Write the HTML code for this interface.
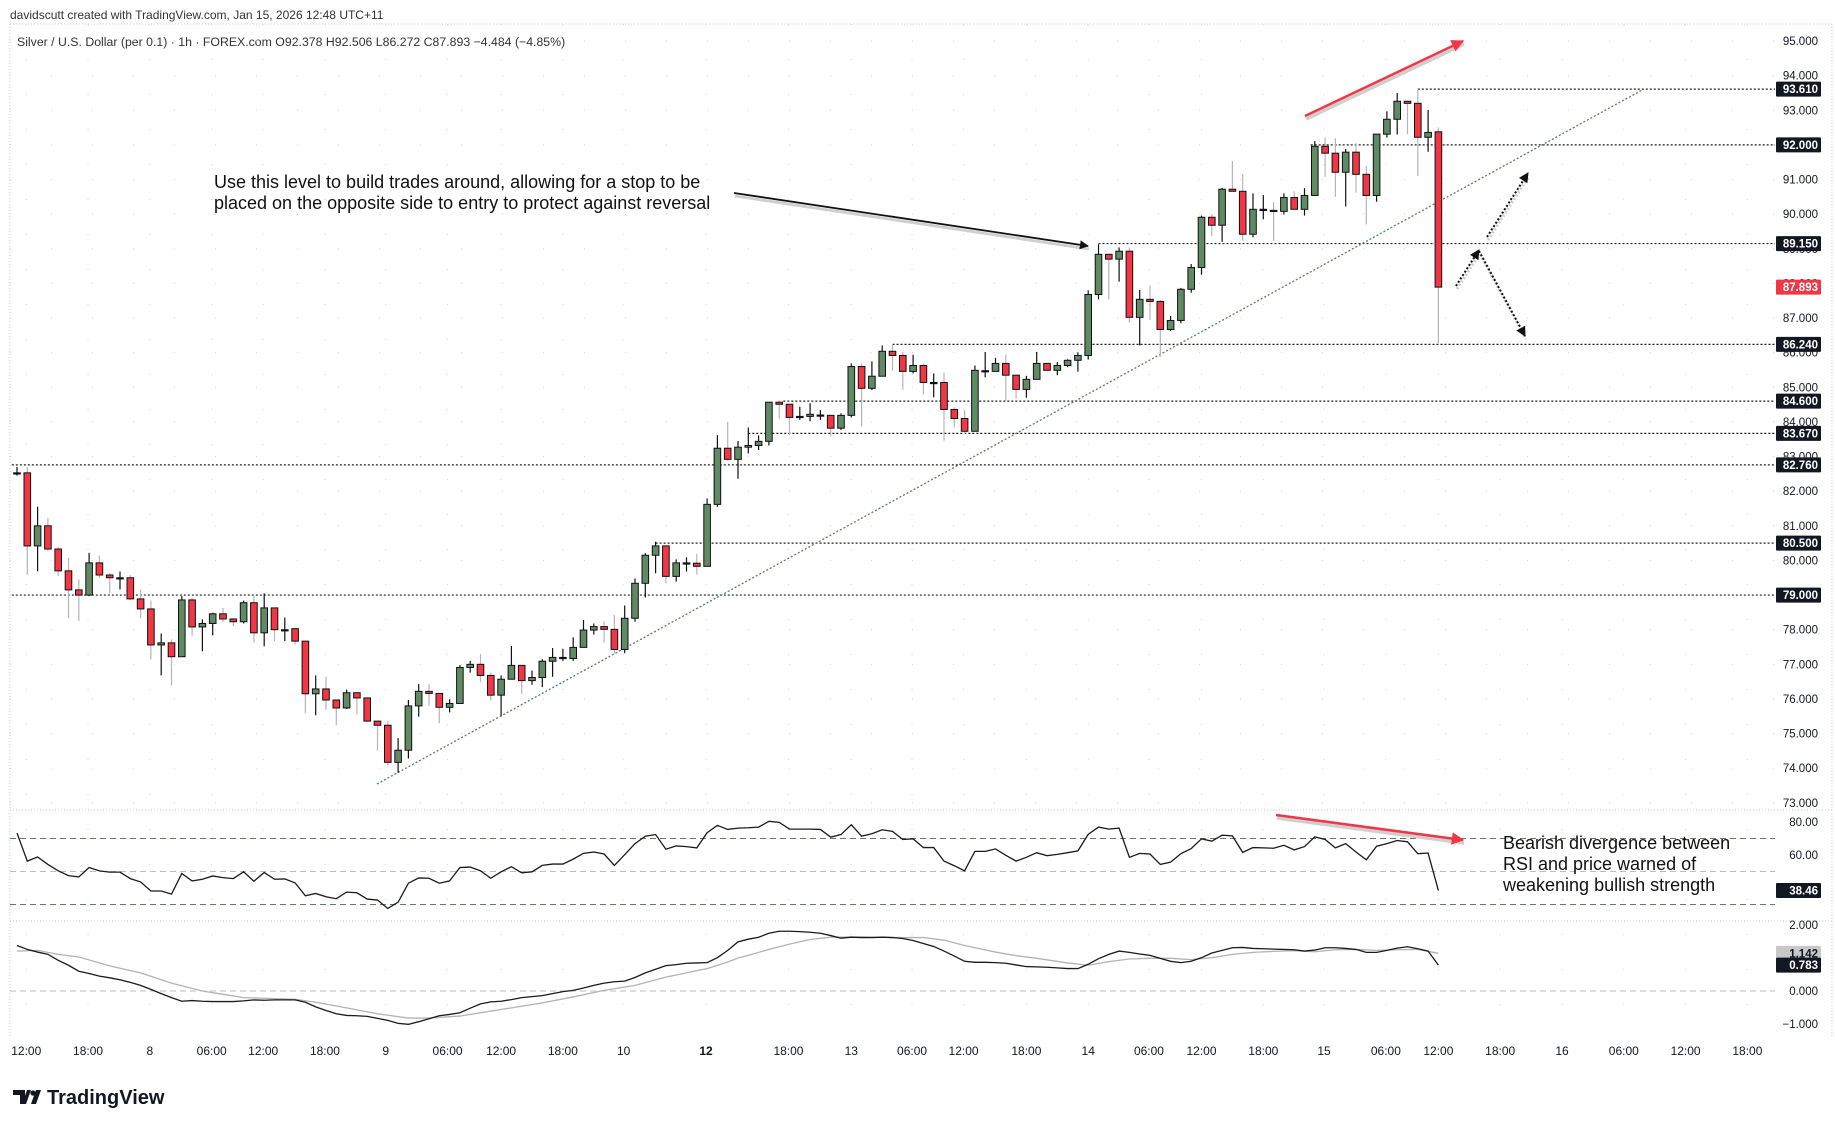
<!DOCTYPE html>
<html><head><meta charset="utf-8"><style>
html,body{margin:0;padding:0;background:#fff;}
body{width:1835px;height:1126px;overflow:hidden;position:relative;font-family:"Liberation Sans",Arial,sans-serif;}
svg{position:absolute;left:0;top:0;}
</style></head><body>
<svg id="chart" width="1835" height="1126" viewBox="0 0 1835 1126" xmlns="http://www.w3.org/2000/svg">
<text x="10" y="19" font-size="12" fill="#333" font-family="Liberation Sans, sans-serif">davidscutt created with TradingView.com, Jan 15, 2026 12:48 UTC+11</text>
<text x="17" y="46" font-size="12.3" fill="#333" font-family="Liberation Sans, sans-serif">Silver / U.S. Dollar (per 0.1) · 1h · FOREX.com  O92.378  H92.506  L86.272  C87.893  −4.484 (−4.85%)</text>
<g id="grid"></g>
<g id="frame"></g>
<g id="levels"></g>
<g id="trend"></g>
<g id="candles"></g>
<g id="rsi"></g>
<g id="macd"></g>
<g id="yaxis"></g>
<g id="xaxis"></g>
<g id="annot">
<text font-size="18" fill="#111" font-family="Liberation Sans, sans-serif"><tspan x="214" y="188">Use this level to build trades around, allowing for a stop to be</tspan><tspan x="214" y="209">placed on the opposite side to entry to protect against reversal</tspan></text>
<text font-size="18" fill="#111" font-family="Liberation Sans, sans-serif"><tspan x="1503" y="849">Bearish divergence between</tspan><tspan x="1503" y="870">RSI and price warned of</tspan><tspan x="1503" y="891">weakening bullish strength</tspan></text>
</g>
<g>
<path d="M13 1090 h12 v14 h-5 v-9 h-7z M27 1090 l4 0 l-5 14 h-4z" fill="#131722"/>
<circle cx="33" cy="1093" r="2.6" fill="#131722"/>
<path d="M36 1090 h5 l-5 14 h-5z" fill="#131722"/>
<text x="47" y="1104" font-size="20" font-weight="bold" fill="#131722" font-family="Liberation Sans, sans-serif">TradingView</text>
</g>
</svg>
<script>
const opens=[82.53,82.53,80.42,81.00,80.33,79.70,79.15,79.00,79.93,79.58,79.50,79.50,78.89,78.60,77.56,77.62,77.22,78.86,78.08,78.18,78.46,78.31,78.23,78.78,77.91,78.63,78.00,78.03,77.67,76.15,76.29,75.97,75.74,76.18,76.03,75.36,75.24,74.17,74.52,75.80,76.22,76.16,75.76,75.87,76.91,77.00,76.68,76.11,76.57,76.97,76.53,76.62,77.09,77.20,77.17,77.49,77.99,78.09,78.01,77.43,78.33,79.34,80.15,80.42,79.54,79.93,79.92,79.83,81.62,83.24,82.92,83.27,83.32,83.44,84.57,84.51,84.16,84.16,84.20,84.19,83.82,84.19,85.60,84.97,85.32,86.04,85.92,85.46,85.63,85.14,85.14,84.36,84.10,83.73,85.48,85.46,85.69,85.35,84.94,85.23,85.69,85.49,85.63,85.78,85.92,87.68,88.84,88.70,88.93,87.02,87.54,87.48,86.67,86.93,87.83,88.46,89.91,89.68,90.72,90.66,89.42,90.14,90.11,90.08,90.48,90.14,90.54,91.96,91.76,91.21,91.79,91.15,90.54,92.31,92.74,93.26,93.20,92.22,92.378];
const highs=[82.70,82.70,81.55,81.23,80.39,80.08,79.45,80.22,80.14,79.64,79.68,79.58,79.16,78.84,77.89,77.72,78.97,78.92,78.30,78.49,78.63,78.34,78.84,78.97,79.05,78.63,78.35,78.05,77.67,76.68,76.64,75.97,76.27,76.20,76.03,75.37,75.37,74.87,75.97,76.43,76.43,76.16,75.99,76.98,77.10,77.30,76.76,76.68,77.53,76.97,76.82,77.15,77.47,77.45,77.78,78.28,78.18,78.24,78.42,78.70,79.48,80.21,80.54,80.42,80.03,80.09,80.19,81.79,83.62,84.00,83.45,83.84,83.61,84.57,84.63,84.51,84.44,84.54,84.34,84.19,84.25,85.69,85.69,85.75,86.21,86.24,86.02,85.94,85.69,85.40,85.42,84.42,84.34,85.63,86.02,85.85,85.94,85.35,85.33,86.02,85.69,85.73,85.81,86.01,87.80,89.13,88.84,89.04,89.04,87.81,87.95,87.52,87.06,87.87,88.56,89.96,90.00,90.76,91.53,91.16,90.60,90.55,90.35,90.60,90.66,90.75,92.11,92.22,92.19,91.88,92.05,91.39,92.31,92.97,93.50,93.26,93.61,93.01,92.506];
const lows=[82.45,79.59,79.69,80.27,79.55,78.33,78.25,78.97,79.50,79.05,79.16,78.85,78.33,77.14,76.68,76.39,77.22,77.83,77.38,77.84,78.22,78.10,78.18,77.62,77.52,77.67,77.67,77.57,75.60,75.53,75.68,75.24,75.71,75.55,75.36,74.51,74.09,73.87,74.28,75.49,75.80,75.30,75.61,75.87,76.76,76.49,75.95,75.51,76.57,76.14,76.41,76.34,76.64,77.10,77.10,77.49,77.86,77.63,77.32,77.32,78.23,78.93,79.63,79.34,79.39,79.68,79.59,79.83,81.55,82.88,82.36,83.09,83.19,83.32,84.09,83.61,84.06,84.02,84.06,83.58,83.77,84.13,83.86,84.92,85.32,85.48,84.93,85.40,84.79,84.71,83.46,83.84,83.65,83.73,85.29,85.46,84.61,84.67,84.70,85.23,85.49,85.35,85.58,85.45,85.80,87.54,87.54,88.05,86.87,86.21,86.94,85.88,86.63,86.85,87.73,88.25,89.37,89.20,90.66,89.23,89.33,89.85,89.23,89.99,90.14,89.96,90.54,91.08,90.50,90.22,90.62,89.70,90.36,92.21,92.30,92.31,91.10,91.80,86.272];
const closes=[82.53,80.42,81.00,80.33,79.70,79.15,79.00,79.93,79.58,79.50,79.50,78.89,78.60,77.56,77.62,77.22,78.86,78.08,78.18,78.46,78.31,78.23,78.78,77.91,78.63,78.00,78.00,77.67,76.15,76.29,75.97,75.74,76.18,76.03,75.36,75.24,74.17,74.52,75.80,76.22,76.16,75.76,75.87,76.91,77.00,76.68,76.11,76.57,76.97,76.53,76.62,77.09,77.20,77.20,77.49,77.99,78.09,78.01,77.43,78.33,79.34,80.15,80.42,79.54,79.93,79.93,79.83,81.62,83.24,82.92,83.27,83.32,83.44,84.57,84.51,84.13,84.16,84.22,84.20,83.82,84.19,85.60,84.97,85.32,86.04,85.92,85.46,85.63,85.14,85.14,84.36,84.10,83.73,85.49,85.48,85.69,85.35,84.94,85.23,85.69,85.49,85.63,85.78,85.92,87.68,88.84,88.70,88.93,87.02,87.54,87.48,86.67,86.93,87.83,88.46,89.91,89.68,90.72,90.66,89.42,90.14,90.14,90.08,90.48,90.14,90.54,91.96,91.76,91.21,91.79,91.15,90.54,92.31,92.74,93.26,93.20,92.22,92.36,87.893];
const rsiValues=[73.3,56.3,58.8,54.3,50.4,47.5,46.7,52.4,50.4,49.6,49.6,45.7,43.7,38.2,38.2,36.3,48.8,44.3,45.3,47.3,46.3,45.7,49.8,44.1,49.4,45.3,45.5,43.1,35.3,36.7,34.7,33.5,37.5,37.1,33.3,32.7,27.6,31.4,42.9,46.1,45.9,42.9,44.3,52.4,52.7,50.4,45.9,49.8,52.9,49.2,49.8,53.7,54.5,54.5,57.5,61.0,61.8,60.6,53.7,60.2,66.9,71.4,72.4,63.5,65.5,65.1,64.3,73.5,78.0,75.5,
76.3,76.5,76.9,80.4,79.8,75.7,75.7,75.7,75.5,70.8,72.4,78.4,71.4,72.9,75.3,74.3,69.4,69.8,64.5,64.5,56.3,53.5,50.4,62.2,62.2,63.7,59.8,56.3,58.6,61.4,59.6,60.4,61.4,62.5,72.5,76.9,75.7,76.3,58.6,61.0,60.6,54.3,55.7,60.8,63.9,69.8,68.4,72.0,71.6,61.6,64.5,64.3,64.1,65.9,63.1,65.1,71.0,69.4,64.3,66.9,61.8,57.1,65.3,66.9,68.8,68.0,60.8,61.2,38.46];
const macdValues=[1.38,1.26,1.18,1.11,0.93,0.78,0.60,0.53,0.45,0.40,0.34,0.26,0.17,0.05,-0.08,-0.20,-0.31,-0.29,-0.31,-0.32,-0.32,-0.32,-0.30,-0.27,-0.28,-0.27,-0.27,-0.27,-0.34,-0.48,-0.59,-0.69,-0.74,-0.75,-0.77,-0.83,-0.89,-0.98,-1.01,-0.93,-0.84,-0.75,-0.71,-0.66,-0.52,-0.39,-0.33,-0.31,-0.26,-0.20,-0.17,-0.14,-0.08,-0.02,0.02,0.09,0.17,0.24,0.28,0.30,0.41,0.55,0.66,0.77,0.80,0.84,0.85,0.86,1.01,1.23,
1.49,1.57,1.63,1.75,1.81,1.81,1.80,1.78,1.75,1.68,1.60,1.63,1.62,1.62,1.63,1.62,1.59,1.53,1.44,1.35,1.21,1.06,0.90,0.87,0.87,0.86,0.84,0.79,0.74,0.73,0.72,0.70,0.68,0.68,0.81,0.98,1.11,1.21,1.17,1.12,1.08,0.99,0.90,0.86,0.90,1.01,1.15,1.23,1.31,1.32,1.29,1.28,1.27,1.26,1.25,1.21,1.24,1.31,1.31,1.29,1.26,1.17,1.17,1.23,1.30,1.34,1.28,1.21,0.783];
const signalIdx=[0,2,4,6,9,12,15,18,20,22,24,27,29,32,35,38,40,43,45,48,51,54,57,60,63,65,67,69,70,71,73,75,77,79,82,85,88,90,92,95,97,99,102,104,106,108,110,112,114,116,118,120,122,124,126,128,130,132,134,136,138];
const signalValues=[1.21,1.23,1.11,1.03,0.76,0.55,0.24,0.0,-0.10,-0.20,-0.22,-0.25,-0.34,-0.51,-0.69,-0.82,-0.82,-0.76,-0.66,-0.51,-0.36,-0.18,0.02,0.17,0.42,0.55,0.68,0.88,1.00,1.08,1.26,1.42,1.56,1.63,1.64,1.62,1.62,1.54,1.38,1.18,1.07,0.99,0.85,0.78,0.89,0.97,0.99,0.99,0.95,1.01,1.11,1.17,1.20,1.22,1.19,1.25,1.26,1.23,1.25,1.26,1.142];
const priceTicks=[95,94,93,92,91,90,89,88,87,86,85,84,83,82,81,80,79,78,77,76,75,74,73];
const levelPrices=[93.61,92.00,89.15,86.24,84.60,83.67,82.76,80.50,79.00];
const levelStartIdx=[136,125.6,105,85,74.4,71,-0.5,62,-0.5];
const timeLabels=["12:00","18:00","8","06:00","12:00","18:00","9","06:00","12:00","18:00","10","12","18:00","13","06:00","12:00","18:00","14","06:00","12:00","18:00","15","06:00","12:00","18:00","16","06:00","12:00","18:00"];
const timeLabelIdx=[0.9,6.9,12.9,18.9,23.9,29.9,35.8,41.8,47,53,58.9,66.9,74.9,81,86.9,91.9,98,104,109.9,115,121,126.9,132.9,138,144,150,156,162,168];
const rsiTicks=[80,60];
const macdTicks=[2,1,0,-1];

const NS="http://www.w3.org/2000/svg";
const X0=17, DX=10.3, PLOT_R=1775;
const xs=i=>X0+DX*i;
const yP=p=>41+(95-p)*34.63;
const yR=v=>822+(80-v)*1.65;
const yM=v=>991-v*33;
function mk(tag,attrs,parent){const e=document.createElementNS(NS,tag);for(const k in attrs)e.setAttribute(k,attrs[k]);parent.appendChild(e);return e;}
const G=id=>document.getElementById(id);

const grid=G('grid');
for(let i=0;i<timeLabelIdx.length;i++){const x=xs(timeLabelIdx[i]);
 const l=mk('line',{x1:x,y1:24,x2:x,y2:1038,stroke:'#d6d6d6','stroke-width':1,'stroke-dasharray':'1,34'},grid);
 
 }
for(const p of priceTicks){const l=mk('line',{x1:10,y1:yP(p),x2:PLOT_R,y2:yP(p),stroke:'#d6d6d6','stroke-width':1,'stroke-dasharray':'1,40'},grid);
 
 }

const fr=G('frame');
[[10,24,1832,24],[10,810,1832,810],[10,921,1832,921],[10,24,10,1038],[1832,24,1832,1038]].forEach(a=>{
 const l=mk('line',{x1:a[0],y1:a[1],x2:a[2],y2:a[3],stroke:'#c8c8c8','stroke-width':1,'stroke-dasharray':'1,2'},fr);
 
 });

const lv=G('levels');
levelPrices.forEach((p,i)=>{const l=mk('line',{x1:xs(levelStartIdx[i]),y1:yP(p),x2:PLOT_R,y2:yP(p),stroke:'#222','stroke-width':1.2,'stroke-dasharray':'2,2'},lv);
 
 });

const tr=G('trend');
const tl=mk('line',{x1:377,y1:784,x2:1644,y2:89,stroke:'#5e7d62','stroke-width':1.3,'stroke-dasharray':'2,2'},tr);



const cg=G('candles');
for(let i=0;i<opens.length;i++){
 const o=opens[i],h=highs[i],lo=lows[i],c=closes[i];const up=c>o, dn=c<o;const x=xs(i);
 const w=mk('line',{x1:x,y1:yP(h),x2:x,y2:yP(lo),stroke:dn?'#b5b5b5':'#111','stroke-width':1.2},cg);
 
 
 const top=yP(Math.max(o,c)),bot=yP(Math.min(o,c));
 const b=mk('rect',{x:x-3.3,y:top,width:6.6,height:Math.max(bot-top,1.2),fill:up?'#5f8a63':(dn?'#f23645':'#111'),stroke:'#111','stroke-width':1},cg);
 
 
}

const rg=G('rsi');
[[70,'#5e7d62'],[50,'#bdbdbd'],[30,'#5e7d62']].forEach(a=>{const l=mk('line',{x1:10,y1:yR(a[0]),x2:PLOT_R,y2:yR(a[0]),stroke:a[1],'stroke-width':1.1,'stroke-dasharray':'6,4'},rg);
 
 });
const rp=mk('polyline',{points:rsiValues.map((v,i)=>xs(i)+','+yR(v)).join(' '),fill:'none',stroke:'#1b1b1b','stroke-width':1.3},rg);



const mg=G('macd');
const z=mk('line',{x1:10,y1:yM(0),x2:PLOT_R,y2:yM(0),stroke:'#bdbdbd','stroke-width':1.1,'stroke-dasharray':'6,4'},mg);


const sp=mk('polyline',{points:signalIdx.map((n,i)=>xs(n)+','+yM(signalValues[i])).join(' '),fill:'none',stroke:'#b3b3b3','stroke-width':1.3},mg);


const mp=mk('polyline',{points:macdValues.map((v,i)=>xs(i)+','+yM(v)).join(' '),fill:'none',stroke:'#1b1b1b','stroke-width':1.3},mg);



const ya=G('yaxis');
function lbl(txt,y,bg,fg){
 if(bg){const r=mk('rect',{x:1776,y:y-7.5,width:45,height:15,fill:bg,rx:1},ya);
 
 }
 const t=mk('text',{x:1818,y:y+4,'text-anchor':'end','font-size':11.5,fill:fg,'font-family':'Liberation Sans, sans-serif','font-weight':bg?'bold':'normal'},ya);
 t.textContent=txt;
 
 }
priceTicks.forEach(p=>lbl(p.toFixed(3),yP(p),null,'#131722'));
rsiTicks.forEach(v=>lbl(v.toFixed(2),yR(v),null,'#131722'));
macdTicks.forEach(v=>lbl((v<0?'−':'')+Math.abs(v).toFixed(3),yM(v),null,'#131722'));
levelPrices.forEach(p=>lbl(p.toFixed(3),yP(p),'#131722','#fff'));
lbl(closes[closes.length-1].toFixed(3),yP(closes[closes.length-1]),'#f23645','#fff');
lbl(rsiValues[rsiValues.length-1].toFixed(2),yR(rsiValues[rsiValues.length-1]),'#131722','#fff');
lbl(signalValues[signalValues.length-1].toFixed(3),yM(signalValues[signalValues.length-1]),'#c8c8c8','#131722');
lbl(macdValues[macdValues.length-1].toFixed(3),yM(macdValues[macdValues.length-1]),'#131722','#fff');

const xa=G('xaxis');
timeLabels.forEach((s,i)=>{const t=mk('text',{x:xs(timeLabelIdx[i]),y:1055,'text-anchor':'middle','font-size':12,fill:'#131722','font-family':'Liberation Sans, sans-serif','font-weight':s==='12'?'bold':'normal'},xa);
 t.textContent=s;
 
 });

const an=G('annot');
const defs=mk('defs',{},an);
function marker(id,color){const m=mk('marker',{id:id,viewBox:'0 0 10 10',refX:9,refY:5,markerWidth:5,markerHeight:5,orient:'auto'},defs);mk('path',{d:'M0,0 L10,5 L0,10 z',fill:color},m);}
marker('mb','#111');marker('mr','#f23645');
function arrow(x1,y1,x2,y2,color,w,dash,mid,name){
 mk('line',{x1:x1+1,y1:y1+3,x2:x2+1,y2:y2+3,stroke:'#cfcfcf','stroke-width':w+1,'stroke-dasharray':dash||'none'},an);
 const l=mk('line',{x1:x1,y1:y1,x2:x2,y2:y2,stroke:color,'stroke-width':w,'stroke-dasharray':dash||'none','marker-end':'url(#'+mid+')'},an);
 
 }
arrow(734,193,1088,246,'#111',1.8,null,'mb','level-callout-arrow');
arrow(1305,116,1463,41,'#f23645',2.5,null,'mr','price-higher-high-arrow');
arrow(1276,815,1463,840,'#f23645',2.5,null,'mr','rsi-lower-high-arrow');
arrow(1456,286,1479,250,'#111',2,'2,2','mb','retest-arrow-up');
arrow(1487,237,1528,173,'#111',2,'2,2','mb','bounce-arrow-up');
arrow(1479,251,1525,336,'#111',2,'2,2','mb','rejection-arrow-down');
</script>
</body></html>
